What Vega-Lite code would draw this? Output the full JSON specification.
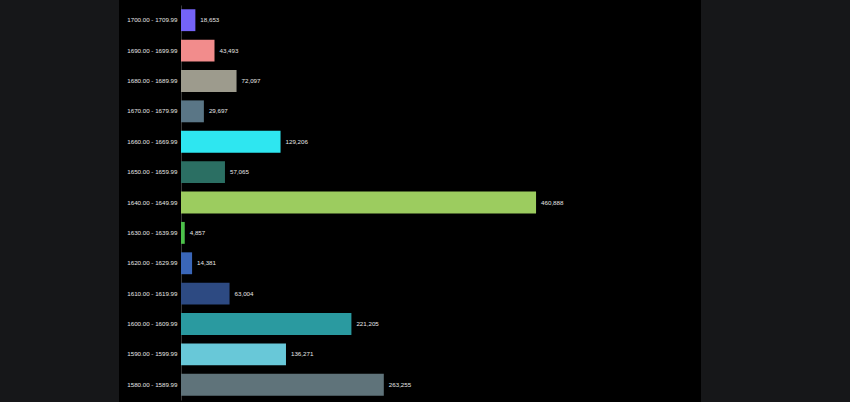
{
  "$schema": "https://vega.github.io/schema/vega-lite/v6.json",
  "background": "#000000",
  "padding": 0,
  "spacing": 0,
  "config": {"view": {"stroke": null}},
  "datasets": {
    "bins": [
      {"range": "1700.00 - 1709.99", "count": 18653},
      {"range": "1690.00 - 1699.99", "count": 43493},
      {"range": "1680.00 - 1689.99", "count": 72097},
      {"range": "1670.00 - 1679.99", "count": 29697},
      {"range": "1660.00 - 1669.99", "count": 129206},
      {"range": "1650.00 - 1659.99", "count": 57065},
      {"range": "1640.00 - 1649.99", "count": 460888},
      {"range": "1630.00 - 1639.99", "count": 4857},
      {"range": "1620.00 - 1629.99", "count": 14381},
      {"range": "1610.00 - 1619.99", "count": 63004},
      {"range": "1600.00 - 1609.99", "count": 221205},
      {"range": "1590.00 - 1599.99", "count": 136271},
      {"range": "1580.00 - 1589.99", "count": 263255}
    ],
    "side": [{"k": "a"}]
  },
  "hconcat": [
    {
      "width": 119,
      "height": 402,
      "data": {"name": "side"},
      "mark": {"type": "rect", "color": "#161719"},
      "encoding": {}
    },
    {
      "width": 520,
      "height": 402,
      "data": {"name": "bins"},
      "encoding": {
        "y": {
          "field": "range",
          "type": "nominal",
          "sort": null,
          "title": null,
          "scale": {"paddingInner": 0.28, "paddingOuter": 0.14, "range": [5, 400]},
          "axis": {
            "minExtent": 62,
            "maxExtent": 62,
            "ticks": false,
            "labelPadding": 4,
            "labelFont": "Liberation Sans",
            "labelFontSize": 6.2,
            "labelColor": "#e6e6e6",
            "domainColor": "#3a3a3a",
            "domainWidth": 1
          }
        },
        "x": {
          "field": "count",
          "type": "quantitative",
          "scale": {"domain": [0, 675000]},
          "axis": null
        }
      },
      "layer": [
        {
          "mark": {"type": "bar"},
          "encoding": {
            "color": {
              "field": "range",
              "type": "nominal",
              "legend": null,
              "scale": {
                "domain": ["1700.00 - 1709.99", "1690.00 - 1699.99", "1680.00 - 1689.99", "1670.00 - 1679.99", "1660.00 - 1669.99", "1650.00 - 1659.99", "1640.00 - 1649.99", "1630.00 - 1639.99", "1620.00 - 1629.99", "1610.00 - 1619.99", "1600.00 - 1609.99", "1590.00 - 1599.99", "1580.00 - 1589.99"],
                "range": ["#7463f7", "#f28c8c", "#9d9b8d", "#5a7686", "#2ee6f0", "#2b6f63", "#9ccc5f", "#4cc14a", "#3a66b8", "#2d4a82", "#2a9aa0", "#68c8d8", "#5f737a"]
              }
            }
          }
        },
        {
          "mark": {"type": "text", "align": "left", "baseline": "middle", "dx": 5, "font": "Liberation Sans", "fontSize": 6.2, "color": "#e6e6e6"},
          "encoding": {
            "text": {"field": "count", "type": "quantitative", "format": ",d"}
          }
        }
      ]
    },
    {
      "width": 149,
      "height": 402,
      "data": {"name": "side"},
      "mark": {"type": "rect", "color": "#161719"},
      "encoding": {}
    }
  ]
}
